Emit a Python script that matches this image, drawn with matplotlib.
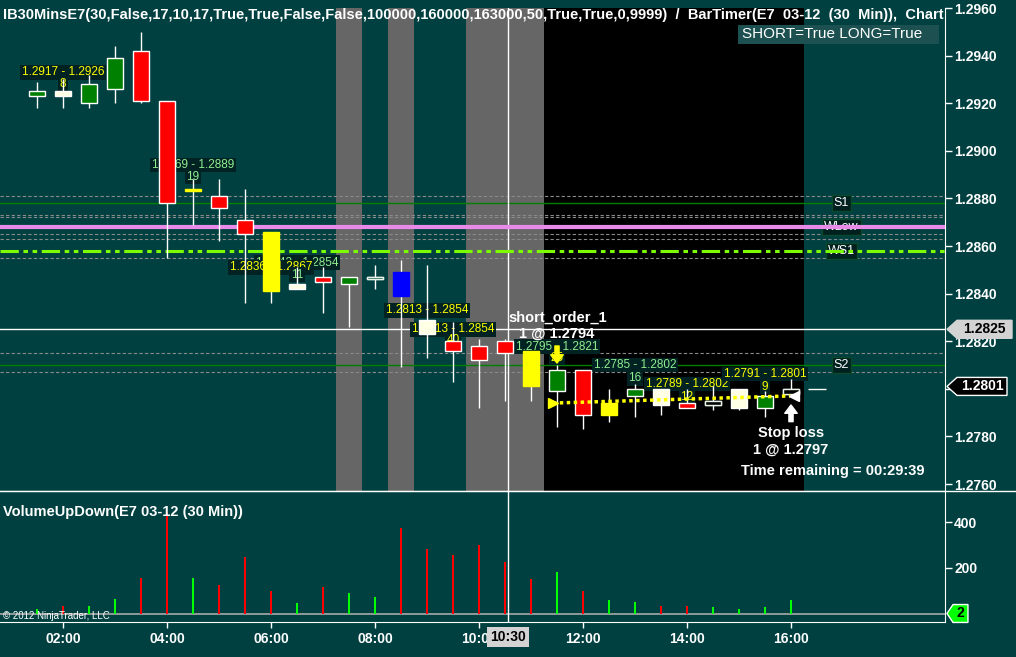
import matplotlib
matplotlib.use("Agg")
import matplotlib.pyplot as plt
from matplotlib.lines import Line2D
from matplotlib.patches import Polygon, Rectangle

plt.rcParams['font.family'] = ['Liberation Sans', 'DejaVu Sans']

BG = '#004040'
YEL = '#FFFF00'
LGR = '#90EE90'

# 30 min bars, E7 03-12
bar_times = ["01:30", "02:00", "02:30", "03:00", "03:30", "04:00", "04:30", "05:00",
             "05:30", "06:00", "06:30", "07:00", "07:30", "08:00", "08:30", "09:00",
             "09:30", "10:00", "10:30", "11:00", "11:30", "12:00", "12:30", "13:00",
             "13:30", "14:00", "14:30", "15:00", "15:30", "16:00"]
opens = [1.2923, 1.2925, 1.2920, 1.2926, 1.2942, 1.2921, 1.2884, 1.2881, 1.2871, 1.2866,
         1.2844, 1.2847, 1.2844, 1.2847, 1.2849, 1.2829, 1.2820, 1.2818, 1.2820, 1.2816,
         1.2799, 1.2808, 1.2794, 1.2797, 1.2800, 1.2794, 1.2795, 1.2800, 1.2792, 1.2800]
highs = [1.2929, 1.2930, 1.2932, 1.2944, 1.2950, 1.2921, 1.2888, 1.2888, 1.2884, 1.2866,
         1.2851, 1.2851, 1.2847, 1.2852, 1.2854, 1.2852, 1.2828, 1.2821, 1.2821, 1.2816,
         1.2810, 1.2808, 1.2800, 1.2802, 1.2800, 1.2800, 1.2801, 1.2800, 1.2799, 1.2804]
lows = [1.2918, 1.2918, 1.2918, 1.2920, 1.2920, 1.2855, 1.2869, 1.2862, 1.2836, 1.2836,
        1.2842, 1.2832, 1.2826, 1.2842, 1.2809, 1.2813, 1.2803, 1.2792, 1.2795, 1.2795,
        1.2784, 1.2783, 1.2786, 1.2788, 1.2789, 1.2792, 1.2791, 1.2791, 1.2788, 1.2798]
closes = [1.2925, 1.2923, 1.2928, 1.2939, 1.2921, 1.2878, 1.2883, 1.2876, 1.2865, 1.2841,
          1.2842, 1.2845, 1.2847, 1.2846, 1.2839, 1.2823, 1.2816, 1.2812, 1.2815, 1.2801,
          1.2808, 1.2789, 1.2789, 1.2800, 1.2793, 1.2792, 1.2793, 1.2792, 1.2797, 1.2798]
bar_kind = ['green', 'cream', 'green', 'green', 'red', 'red', 'yellow', 'red', 'red', 'yellow',
            'cream', 'red', 'green', 'hollow', 'blue', 'cream', 'red', 'red', 'red', 'yellow',
            'green', 'red', 'yellow', 'green', 'cream', 'red', 'hollow', 'cream', 'green', 'hollow']

volumes = [22, 35, 35, 65, 157, 443, 157, 126, 248, 100, 48, 117, 91, 74, 374,
           283, 257, 300, 226, 152, 183, 100, 61, 52, 35, 35, 30, 22, 30, 61]
vol_up = [1, 0, 1, 1, 0, 0, 1, 0, 0, 0, 1, 0, 1, 1, 0,
          0, 0, 0, 0, 0, 1, 0, 1, 1, 0, 0, 1, 1, 1, 1]

# horizontal levels
grey_levels = [1.2881, 1.2873, 1.2872, 1.2865, 1.2863, 1.2855, 1.2815, 1.2807]
s1_level = 1.2878
s2_level = 1.2810
wlow_level = 1.2868
ws1_level = 1.2858
cross_price = 1.2825
last_price = 1.2801
entry_price = 1.2794
stop_price = 1.2797

price_ticks = [1.2760, 1.2780, 1.2800, 1.2820, 1.2840, 1.2860, 1.2880, 1.2900, 1.2920, 1.2940, 1.2960]
time_ticks = ["02:00", "04:00", "06:00", "08:00", "10:00", "12:00", "14:00", "16:00"]


def hrs(s):
    h, m = s.split(':')
    return int(h) + int(m) / 60.0


x = [hrs(t) for t in bar_times]

W, H = 1016, 657
fig = plt.figure(figsize=(W / 100, H / 100), dpi=100, facecolor=BG)
ax = fig.add_axes([0, 1 - 491 / H, 945 / W, 483 / H], facecolor=BG)
axv = fig.add_axes([0, 1 - 622 / H, 945 / W, 131 / H], facecolor=BG)

xl = (2 - 63 / 52, 2 + 882 / 52)
for a in (ax, axv):
    a.set_xlim(*xl)
    for sp in ('left', 'top'):
        a.spines[sp].set_visible(False)
    a.spines['right'].set_color('white')
    a.spines['bottom'].set_color('white')
    a.yaxis.tick_right()
axv.spines['top'].set_visible(True)
axv.spines['top'].set_color('white')
ax.set_ylim(1.2760 - 7 / 23800, 1.2960)
axv.set_ylim(-35, 535)

# session bands
ax.axvspan(7.25, 7.75, color='#666666', lw=0, zorder=0.5)
ax.axvspan(8.25, 8.75, color='#666666', lw=0, zorder=0.5)
ax.axvspan(9.75, 11.25, color='#666666', lw=0, zorder=0.5)
ax.axvspan(11.25, 16.25, color='black', lw=0, zorder=0.5)

# levels
for lv in grey_levels:
    ax.axhline(lv, color='#8a8a8a', lw=0.8, ls=(0, (3, 2)), zorder=2)
ax.axhline(s1_level, color='#008000', lw=1, zorder=2)
ax.axhline(s2_level, color='#008000', lw=1, zorder=2)
ax.axhline(wlow_level, color='#E88AE8', lw=3, zorder=3.2)
ax.axhline(ws1_level, color='#7CFC00', lw=2.2, ls=(0, (6, 1.5, 1.5, 1.5, 1.5, 1.5)), zorder=3.2)


def level_tag(y, s):
    ax.text(16.97, y, s, color='white', fontsize=9, ha='center', va='center', zorder=3,
            bbox=dict(boxstyle='square,pad=0.15', fc='#002020', ec='#0a4a2a', lw=1))


level_tag(s1_level, "S1")
level_tag(wlow_level, "WLow")
level_tag(ws1_level, "WS1")
level_tag(s2_level, "S2")

# crosshair
ax.axhline(cross_price, color='white', lw=1, zorder=3)
cx = 2 + (508 - 63) / 52
ax.axvline(cx, color='white', lw=1, zorder=3)
axv.axvline(cx, color='white', lw=1, zorder=3)


def tag(xx, y, s, color):
    ax.text(xx, y, s, color=color, fontsize=8.5, ha='center', va='center', zorder=4,
            bbox=dict(boxstyle='square,pad=0.12', fc='#002222', ec='none'))


tag(2.0, 1.2933, "1.2917 - 1.2926", YEL)
tag(2.0, 1.2928, "8", YEL)
tag(4.5, 1.2894, "1.2869 - 1.2889", LGR)
tag(4.5, 1.2889, "19", LGR)
tag(6.5, 1.2853, "1.2842 - 1.2854", LGR)
tag(6.0, 1.2851, "1.2836 - 1.2867", YEL)
tag(6.5, 1.2848, "11", LGR)
tag(9.0, 1.2833, "1.2813 - 1.2854", YEL)
tag(9.5, 1.2825, "1.2813 - 1.2854", YEL)
tag(9.5, 1.28205, "40", YEL)
tag(11.5, 1.28176, "1.2795 - 1.2821", LGR)
tag(11.5, 1.2813, "25", YEL)
tag(13.0, 1.2810, "1.2785 - 1.2802", LGR)
tag(13.0, 1.28045, "16", LGR)
tag(14.0, 1.2802, "1.2789 - 1.2802", YEL)
tag(14.0, 1.27966, "12", YEL)
tag(15.5, 1.28062, "1.2791 - 1.2801", YEL)
tag(15.5, 1.28008, "9", YEL)

# candles
face = {'green': '#008000', 'red': '#FF0000', 'yellow': '#FFFF00', 'cream': '#FFFFE6',
        'blue': '#0000FF', 'hollow': 'none'}
edge = {'green': 'white', 'red': 'white', 'yellow': '#FFFF00', 'cream': 'white',
        'blue': '#0000FF', 'hollow': '#E8F4E8'}
ax.vlines(x, lows, highs, color='white', lw=1, zorder=5)
bottoms = [min(o, c) for o, c in zip(opens, closes)]
heights = [max(abs(c - o), 0.00008) for o, c in zip(opens, closes)]
ax.bar(x, heights, bottom=bottoms, width=0.3,
       color=[face[k] for k in bar_kind], edgecolor=[edge[k] for k in bar_kind],
       linewidth=1, zorder=6)
for xi, k, b, h in zip(x, bar_kind, bottoms, heights):
    if k == 'hollow':
        ax.add_patch(Rectangle((xi - 0.15, b), 0.3, h, fc=BG if xi < 11 else 'black',
                               ec=edge[k], lw=1, zorder=6))
ax.hlines(1.2800, 16.33, 16.67, color='white', lw=1, zorder=5)

# order line
ax.plot([11.42, 15.98], [entry_price, stop_price], color=YEL, lw=2.5, ls=(0, (1, 1)), zorder=7)
ax.plot([11.42], [entry_price], marker='>', color=YEL, ms=7, zorder=7)
ax.plot([16.05], [stop_price], marker='<', color='white', ms=7, zorder=7)
ax.annotate('', xy=(11.5, 1.28108), xytext=(11.5, 1.28180),
            arrowprops=dict(fc=YEL, ec=YEL, width=3, headwidth=9, headlength=6, shrink=0), zorder=7)
ax.annotate('', xy=(16.0, 1.27932), xytext=(16.0, 1.27862),
            arrowprops=dict(fc='white', ec='white', width=3, headwidth=9, headlength=6, shrink=0), zorder=7)

bold = dict(color='white', fontsize=10.5, fontweight='bold', ha='center', va='center', zorder=8)
ax.text(11.51, 1.28297, "short_order_1", **bold)
ax.text(11.5, 1.28230, "1 @ 1.2794", **bold)
ax.text(16.0, 1.27814, "Stop loss", **bold)
ax.text(16.0, 1.27743, "1 @ 1.2797", **bold)
ax.text(16.81, 1.27655, "Time remaining = 00:29:39", **bold)

ax.text(0.003, 0.9865, "IB30MinsE7(30,False,17,10,17,True,True,False,False,100000,160000,163000,"
        "50,True,True,0,9999)  /  BarTimer(E7  03-12  (30  Min)),  Chart",
        transform=ax.transAxes, color='white', fontsize=10.5, fontweight='bold',
        va='center', ha='left', clip_on=True, zorder=9)

# price axis
ax.set_yticks(price_ticks)
ax.set_yticklabels([f"{p:.4f}" for p in price_ticks], fontweight='bold')
ax.tick_params(axis='y', colors='white', length=5, width=1, pad=1.5, labelsize=10)
ax.tick_params(axis='x', bottom=False, labelbottom=False)


def flag(a, y, hh, sh, x1, s, fc, tc, ec):
    tr = a.get_yaxis_transform()
    a.add_patch(Polygon([(1.0021, y), (sh, y + hh), (x1, y + hh), (x1, y - hh), (sh, y - hh)],
                        closed=True, transform=tr, fc=fc, ec=ec, lw=1, clip_on=False, zorder=10))
    a.text((sh + x1) / 2, y, s, transform=tr, ha='center', va='center', color=tc,
           fontsize=10, fontweight='bold', zorder=11, clip_on=False)


flag(ax, cross_price, 9 / 23800, 1.0127, 1.0709, "1.2825", '#D3D3D3', 'black', '#D3D3D3')
flag(ax, last_price, 9 / 23800, 1.0127, 1.0656, "1.2801", 'black', 'white', 'white')

# volume panel
axv.axhline(0, color='#A8A8A8', lw=1.2, zorder=2)
axv.bar(x, volumes, width=0.042, color=['#00FF00' if u else '#FF0000' for u in vol_up],
        lw=0, zorder=3)
axv.set_yticks([200, 400])
axv.set_yticklabels(["200", "400"], fontweight='bold')
axv.tick_params(axis='y', colors='white', length=5, width=1, pad=1.5, labelsize=10)
axv.set_xticks([hrs(t) for t in time_ticks])
axv.set_xticklabels(time_ticks, fontweight='bold')
axv.tick_params(axis='x', colors='white', length=4, width=1, pad=3, labelsize=10)
flag(axv, 2, 39, 1.0085, 1.0243, "2", '#00FF00', 'black', 'white')
axv.text(cx, -0.115, "10:30", transform=axv.get_xaxis_transform(), ha='center', va='center',
         color='black', fontsize=10, fontweight='bold', zorder=11, clip_on=False,
         bbox=dict(boxstyle='square,pad=0.2', fc='#D3D3D3', ec='none'))
axv.text(0.003, 0.84, "VolumeUpDown(E7 03-12 (30 Min))", transform=axv.transAxes,
         color='white', fontsize=10.5, fontweight='bold', va='center', ha='left', zorder=4)
fig.text(3 / W, 1 - 616 / H, "\u00a9 2012 NinjaTrader, LLC", color='white', fontsize=7, va='center')

# panel separator and status box
fig.add_artist(Line2D([0, 1], [1 - 491 / H] * 2, color='white', lw=1))
fig.add_artist(Rectangle((738 / W, 1 - 44 / H), 201 / W, 19 / H, transform=fig.transFigure,
                         fc='#1D5050', ec='none'))
fig.text(742 / W, 1 - 34.5 / H, "SHORT=True LONG=True", color='white', fontsize=11, va='center')

plt.savefig("out.png", dpi=100, facecolor=BG)
